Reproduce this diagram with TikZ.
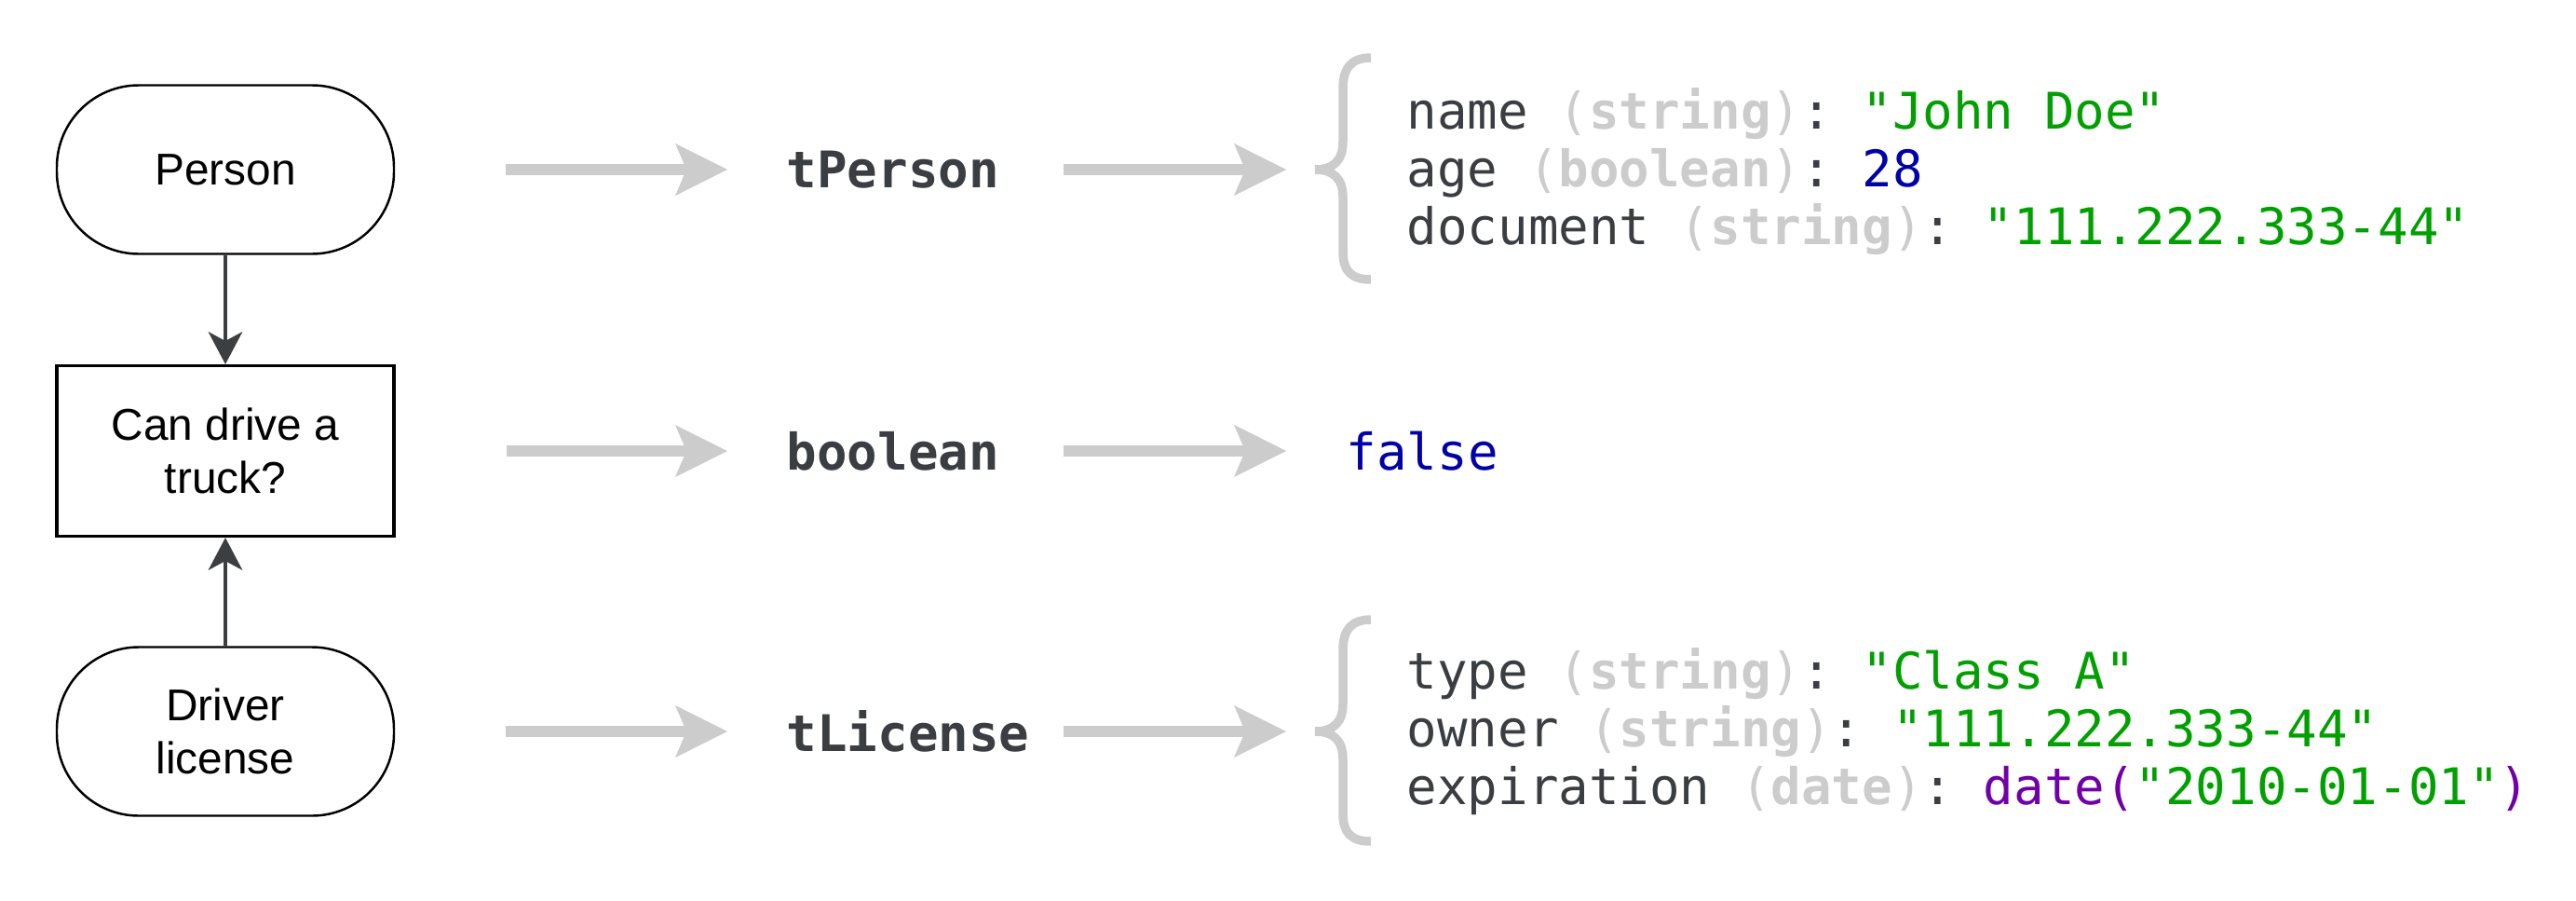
\documentclass[tikz,border=0pt]{standalone}
\usepackage{fontspec}
\setsansfont{Liberation Sans}
\setmonofont{DejaVu Sans Mono}
\usetikzlibrary{arrows.meta, positioning}

\definecolor{edgegray}{HTML}{3C3F42}
\definecolor{flowgray}{HTML}{CCCCCC}
\definecolor{codetext}{HTML}{3A3D41}
\definecolor{codestr}{HTML}{00A000}
\definecolor{codenum}{HTML}{0000A8}
\definecolor{codefn}{HTML}{7000A8}

\newcommand{\argtype}[1]{\textcolor{flowgray}{(\textbf{#1})}}
\newcommand{\strval}[1]{\textcolor{codestr}{"#1"}}

\begin{document}
\begin{tikzpicture}[
		terminal/.style={draw,rounded corners=0.88cm,line width=0.7pt,minimum width=3.62cm,minimum height=1.81cm,align=center,font=\sffamily\fontsize{13.6}{16.2}\selectfont},
		decision/.style={draw,rectangle,line width=0.9pt,minimum width=3.62cm,minimum height=1.83cm,align=center,font=\sffamily\fontsize{13.6}{16.2}\selectfont},
		typelabel/.style={anchor=west,inner sep=0pt,text width=2.97cm,align=left,text=codetext,font=\ttfamily\bfseries\fontsize{15.4}{17.6}\selectfont},
		codeline/.style={anchor=base west,inner sep=0pt,text=codetext,font=\ttfamily\fontsize{15.4}{17.6}\selectfont},
		flow/.style={flowgray,line width=3.4pt,-{Stealth[length=5.6mm,width=5.6mm,inset=1.2mm,line width=0pt]}},
		link/.style={edgegray,line width=1.4pt,-{Stealth[length=3.5mm,width=3.7mm,inset=1mm,line width=0pt]}},
		codebrace/.style={flowgray,line width=2.7pt}
	]
		\useasboundingbox (0,0) rectangle (27.66,9.66);

		% flowchart
		\node[terminal] (person) at (2.42,7.84) {Person};
		\node[decision] (truck) at (2.42,4.82) {Can drive a\\truck?};
		\node[terminal] (license) at (2.42,1.81) {Driver\\license};

		\draw[link] (person) -- (truck);
		\draw[link] (license) -- (truck);

		% types
		\node[typelabel] (tperson) at (8.44,7.84) {tPerson};
		\node[typelabel] (tbool) at (8.44,4.82) {boolean};
		\node[typelabel] (tlicense) at (8.44,1.81) {tLicense};

		\coordinate (pbrace) at (14.12,7.84);
		\coordinate (lbrace) at (14.12,1.81);

		% values
		\node[codeline] (name) at (15.10,8.28) {name \argtype{string}: \strval{John Doe}};
		\node[codeline] (age) at (15.10,7.66) {age \argtype{boolean}: \textcolor{codenum}{28}};
		\node[codeline] (document) at (15.10,7.04) {document \argtype{string}: \strval{111.222.333-44}};

		\node[codeline,anchor=west,text=codenum] (fval) at (14.45,4.82) {false};

		\node[codeline] (type) at (15.10,2.27) {type \argtype{string}: \strval{Class A}};
		\node[codeline] (owner) at (15.10,1.65) {owner \argtype{string}: \strval{111.222.333-44}};
		\node[codeline] (expiration) at (15.10,1.03) {expiration \argtype{date}: \textcolor{codefn}{date(}\strval{2010-01-01}\textcolor{codefn}{)}};

		\draw[flow,shorten <=1.19cm,shorten >=0.63cm] (person) -- (tperson);
		\draw[flow,shorten <=1.19cm,shorten >=0.63cm] (truck) -- (tbool);
		\draw[flow,shorten <=1.19cm,shorten >=0.63cm] (license) -- (tlicense);

		\draw[flow,shorten >=0.31cm] (tperson) -- (pbrace);
		\draw[flow,shorten >=0.64cm] (tbool) -- (fval);
		\draw[flow,shorten >=0.31cm] (tlicense) -- (lbrace);

		\draw[codebrace,shift={(pbrace)}] (0.6,1.2) .. controls (0.4,1.2) and (0.3,1.1) .. (0.3,0.87) -- (0.3,0.3) .. controls (0.3,0.1) and (0.2,0) .. (0,0) .. controls (0.2,0) and (0.3,-0.1) .. (0.3,-0.3) -- (0.3,-0.88) .. controls (0.3,-1.1) and (0.4,-1.18) .. (0.6,-1.18);
		\draw[codebrace,shift={(lbrace)}] (0.6,1.2) .. controls (0.4,1.2) and (0.3,1.1) .. (0.3,0.87) -- (0.3,0.3) .. controls (0.3,0.1) and (0.2,0) .. (0,0) .. controls (0.2,0) and (0.3,-0.1) .. (0.3,-0.3) -- (0.3,-0.88) .. controls (0.3,-1.1) and (0.4,-1.18) .. (0.6,-1.18);

	\end{tikzpicture}
\end{document}
